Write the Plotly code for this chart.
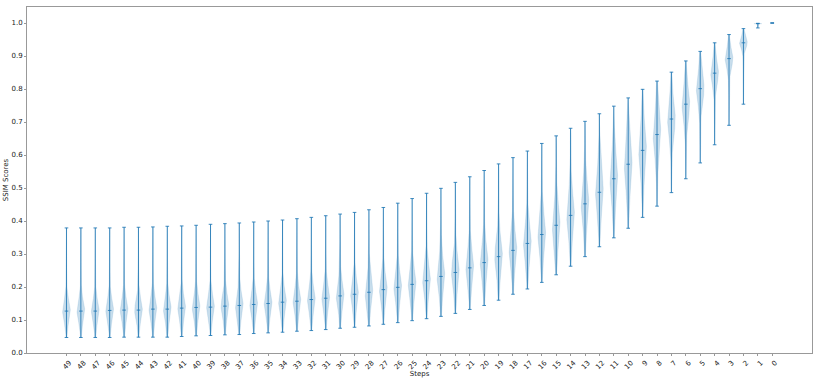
import numpy as np
import plotly.graph_objects as go

steps = ["49", "48", "47", "46", "45", "44", "43", "42", "41", "40",
         "39", "38", "37", "36", "35", "34", "33", "32", "31", "30",
         "29", "28", "27", "26", "25", "24", "23", "22", "21", "20",
         "19", "18", "17", "16", "15", "14", "13", "12", "11", "10",
         "9", "8", "7", "6", "5", "4", "3", "2", "1", "0"]

ssim_max = [0.379, 0.379, 0.379, 0.379, 0.381, 0.381, 0.382, 0.384, 0.385, 0.387,
            0.390, 0.392, 0.394, 0.397, 0.400, 0.403, 0.407, 0.411, 0.416, 0.421,
            0.426, 0.434, 0.441, 0.454, 0.468, 0.484, 0.499, 0.517, 0.534, 0.553,
            0.573, 0.592, 0.612, 0.635, 0.658, 0.681, 0.702, 0.725, 0.748, 0.773,
            0.799, 0.824, 0.851, 0.885, 0.914, 0.940, 0.965, 0.983, 0.999, 1.000]

ssim_median = [0.127, 0.127, 0.127, 0.129, 0.130, 0.130, 0.133, 0.133, 0.136, 0.138,
               0.139, 0.142, 0.144, 0.147, 0.150, 0.154, 0.157, 0.162, 0.166, 0.173,
               0.178, 0.184, 0.192, 0.199, 0.208, 0.219, 0.232, 0.244, 0.258, 0.274,
               0.292, 0.311, 0.332, 0.359, 0.387, 0.417, 0.452, 0.487, 0.528, 0.572,
               0.614, 0.662, 0.709, 0.754, 0.801, 0.848, 0.892, 0.940, 0.998, 1.000]

ssim_min = [0.047, 0.047, 0.047, 0.047, 0.048, 0.048, 0.048, 0.048, 0.050, 0.052,
            0.053, 0.055, 0.056, 0.059, 0.061, 0.063, 0.066, 0.068, 0.071, 0.075,
            0.078, 0.082, 0.087, 0.092, 0.098, 0.104, 0.111, 0.120, 0.132, 0.144,
            0.160, 0.178, 0.194, 0.214, 0.237, 0.263, 0.292, 0.322, 0.349, 0.378,
            0.411, 0.445, 0.486, 0.528, 0.576, 0.631, 0.690, 0.754, 0.985, 1.000]

LINE_BLUE = "rgba(31,119,180,0.85)"
BODY_FILL = "rgba(31,119,180,0.25)"
HALF_WIDTH = 0.27
CAP = 0.125

fig = go.Figure()
positions = list(range(len(steps)))

# violin bodies (outline built from each step's summary statistics)
for pos, lo, med, hi in zip(positions, ssim_min, ssim_median, ssim_max):
    if hi - lo <= 1e-9:
        continue
    sigma = max(min(med - lo, hi - med), (hi - lo) * 0.05) / 2.7
    ys = np.linspace(lo, hi, 160)
    z = np.abs(ys - med) / sigma
    dens = np.exp(-0.5 * z ** 1.8)
    dens = dens + 0.12 * np.exp(-np.abs(ys - med) / (hi - lo + 1e-9) * 1.5)
    dens = dens / dens.max() * HALF_WIDTH
    xs = np.concatenate([pos + dens, (pos - dens)[::-1]])
    yy = np.concatenate([ys, ys[::-1]])
    fig.add_trace(go.Scatter(x=xs, y=yy, mode="lines", fill="toself",
                             fillcolor=BODY_FILL,
                             line=dict(color="rgba(31,119,180,0.2)", width=0.6),
                             hoverinfo="skip", showlegend=False))

# vertical bars, caps and medians
bx, by, cx, cy = [], [], [], []
for pos, lo, med, hi in zip(positions, ssim_min, ssim_median, ssim_max):
    bx += [pos, pos, None]
    by += [lo, hi, None]
    for v in (lo, med, hi):
        cx += [pos - CAP, pos + CAP, None]
        cy += [v, v, None]
fig.add_trace(go.Scatter(x=bx, y=by, mode="lines", line=dict(color=LINE_BLUE, width=1),
                         hoverinfo="skip", showlegend=False))
fig.add_trace(go.Scatter(x=cx, y=cy, mode="lines", line=dict(color=LINE_BLUE, width=1),
                         hoverinfo="skip", showlegend=False))

axis_common = dict(showgrid=False, zeroline=False, showline=True, mirror=True,
                   linecolor="#999999", linewidth=1, ticks="outside", ticklen=2,
                   tickcolor="#999999", automargin=False,
                   tickfont=dict(family="DejaVu Sans", size=7, color="#222222"))

fig.update_layout(
    width=814, height=378,
    margin=dict(l=27, r=2, t=7, b=25),
    paper_bgcolor="white", plot_bgcolor="white",
    font=dict(family="DejaVu Sans", color="#222222"),
    xaxis=dict(range=[-2.74, 51.76], tickmode="array", tickvals=positions,
               ticktext=steps, tickangle=-45, ticklabelshift=3,
               title=dict(text="Steps", font=dict(size=7), standoff=0),
               **axis_common),
    yaxis=dict(range=[0, 1.0485], tickmode="array",
               tickvals=[0, 0.1, 0.2, 0.3, 0.4, 0.5, 0.6, 0.7, 0.8, 0.9, 1.0],
               ticktext=["0.0", "0.1", "0.2", "0.3", "0.4", "0.5", "0.6", "0.7", "0.8", "0.9", "1.0"],
               title=dict(text="SSIM Scores", font=dict(size=7), standoff=2),
               **axis_common),
)

fig.write_html("out.html", config={"displayModeBar": False},
               post_script="document.body.style.margin='0';document.body.style.padding='0';document.body.style.overflow='hidden';")
